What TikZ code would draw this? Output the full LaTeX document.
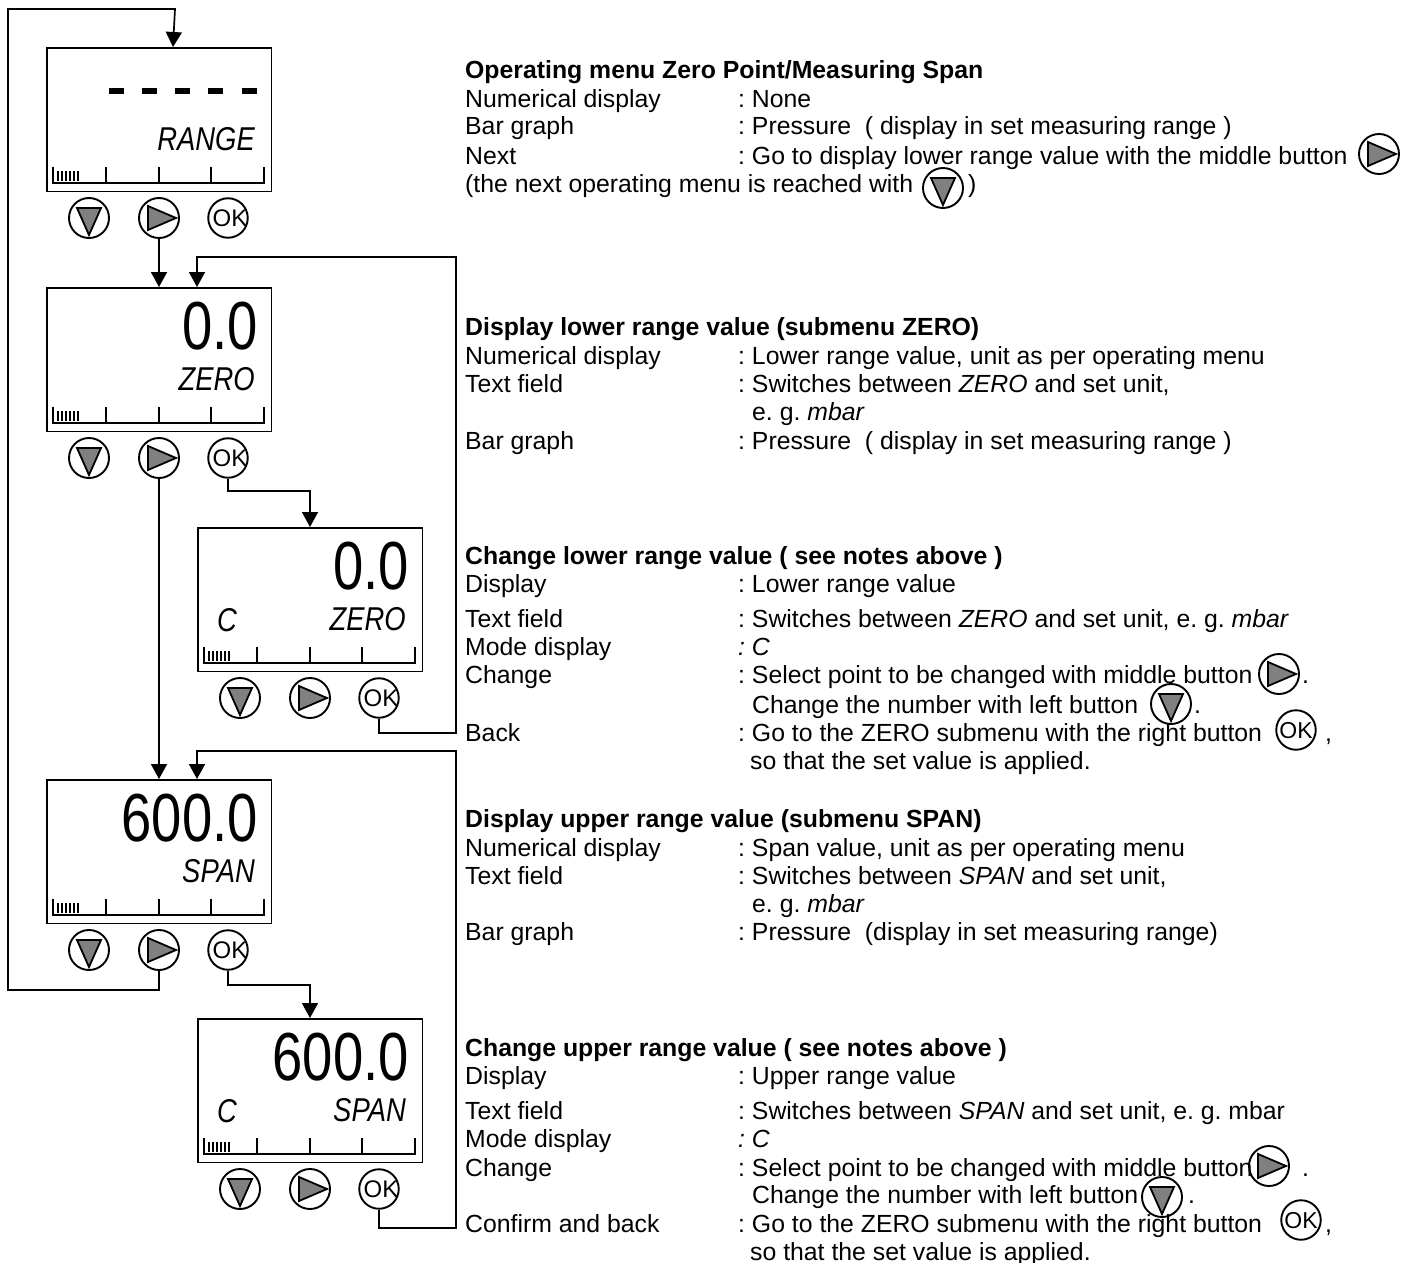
\documentclass[tikz,border=0pt]{standalone}
\usepackage{fontspec}
\setmainfont{Liberation Sans}
\usetikzlibrary{arrows.meta}
\newcounter{txtn}
\frenchspacing
\tikzset{
  x=1pt,y=-1pt,
  lcd/.style={draw=black,line width=1.9pt,fill=white,rectangle,inner sep=0pt,minimum width=224.5pt,minimum height=143.5pt,anchor=north west},
  scale line/.style={line width=1.6pt},
  fine tick/.style={line width=1.1pt},
  btn/.style={draw=black,line width=1.9pt,circle,inner sep=0pt,minimum size=40pt},
  btnsmall/.style={btn,minimum size=39.5pt},
  tri/.style={draw=black,fill=black!50,line width=1.8pt,line join=miter},
  conn/.style={draw=black,line width=1.7pt,-{Triangle[width=16pt,length=15pt]}},
  txt/.style={anchor=base west,inner sep=0pt,font=\fontsize{24.8}{24.8}\selectfont},
  bold txt/.style={txt,font=\fontsize{24.8}{24.8}\selectfont\bfseries},
  big num/.style={anchor=base east,inner sep=0pt,font=\fontsize{68}{68}\selectfont},
  lcd label/.style={anchor=base east,inner sep=0pt,font=\fontsize{33}{33}\selectfont\itshape},
  ok text/.style={inner sep=0pt,font=\fontsize{24}{24}\selectfont},
  ok inline/.style={inner sep=0pt,font=\fontsize{23}{23}\selectfont},
}
% icons: name, x, y
\newcommand{\btndown}[3]{%
  \node[btn] (#1) at (#2,#3) {};
  \draw[tri,shift={(#2,#3)}] (-12,-10) -- (12,-10) -- (0,17) -- cycle;}
\newcommand{\btnright}[3]{%
  \node[btn] (#1) at (#2,#3) {};
  \draw[tri,shift={(#2,#3)}] (-11,-12) -- (17,0) -- (-11,12) -- cycle;}
\newcommand{\btnok}[3]{%
  \node[btnsmall] (#1) at (#2,#3) {};
  \node[ok text] (#1t) at (\numexpr#2+2\relax,#3) {OK};}
\newcommand{\btnokin}[3]{%
  \node[btnsmall] (#1) at (#2,#3) {};
  \node[ok inline] (#1t) at (#2,\numexpr#3+1\relax) {OK};}
% display: name, x, y, number, label, mode
\newcommand{\lcdunit}[6]{%
  \node[lcd] (#1) at (#2,#3) {};
  \begin{scope}[shift={(#2,#3)}]
    \draw[scale line] (7,120) -- (7,136) -- (218,136) -- (218,120);
    \foreach \tx in {60,113,165} \draw[scale line] (\tx,120) -- (\tx,136);
    \foreach \tx in {12,16,20,24,28,32} \draw[fine tick] (\tx,124) -- (\tx,134);
    \node[big num] (#1n) at (212,62) {\scalebox{.8}[1]{#4}};
    \node[lcd label] (#1l) at (209,103) {\scalebox{.83}[1]{#5}};
    \node[lcd label,anchor=base west] (#1m) at (20,104) {\scalebox{.83}[1]{#6}};
  \end{scope}
  \btndown{#1a}{\numexpr#2+43\relax}{\numexpr#3+171\relax}
  \btnright{#1b}{\numexpr#2+113\relax}{\numexpr#3+171\relax}
  \btnok{#1c}{\numexpr#2+182\relax}{\numexpr#3+171\relax}}
\newcommand{\tl}[3]{\stepcounter{txtn}\node[txt] (t\thetxtn) at (#1,#2) {#3};}
\newcommand{\hd}[2]{\stepcounter{txtn}\node[bold txt] (t\thetxtn) at (465,#1) {#2};}
\newcommand{\rw}[3]{\tl{465}{#1}{#2}\tl{738}{#1}{#3}}
\begin{document}
\begin{tikzpicture}
\useasboundingbox (0,0) rectangle (1409,1263);
% displays
\lcdunit{A}{46}{47}{}{RANGE}{}
\lcdunit{B}{46}{287}{0.0}{ZERO}{}
\lcdunit{C}{197}{527}{0.0}{ZERO}{C}
\lcdunit{D}{46}{779}{600.0}{SPAN}{}
\lcdunit{E}{197}{1018}{600.0}{SPAN}{C}
\foreach \dx in {109,142,175,208,242} \fill (\dx,88) rectangle +(15,6);
% connectors
\coordinate (loopA) at (159,990);
\coordinate (loopB) at (8,990);
\coordinate (loopC) at (8,9);
\coordinate (loopD) at (175,9);
\coordinate (Ain) at (173,47);
\draw[conn] (Db.south) -- (loopA) -- (loopB) -- (loopC) -- (loopD) -- (Ain);
\draw[conn] (Ab.south) -- (Ab.south |- B.north);
\draw[conn] (Bb.south) -- (Bb.south |- D.north);
\coordinate (r1a) at (379,733);
\coordinate (r1b) at (456,733);
\coordinate (r1c) at (456,257);
\coordinate (r1d) at (197,257);
\coordinate (Bin) at (197,287);
\draw[conn] (Cc.south) -- (r1a) -- (r1b) -- (r1c) -- (r1d) -- (Bin);
\coordinate (r2a) at (379,1228);
\coordinate (r2b) at (456,1228);
\coordinate (r2c) at (456,751);
\coordinate (r2d) at (197,751);
\coordinate (Din) at (197,779);
\draw[conn] (Ec.south) -- (r2a) -- (r2b) -- (r2c) -- (r2d) -- (Din);
\coordinate (s1a) at (228,491);
\coordinate (s1b) at (310,491);
\coordinate (Cin) at (310,527);
\draw[conn] (Bc.south) -- (s1a) -- (s1b) -- (Cin);
\coordinate (s2a) at (228,985);
\coordinate (s2b) at (310,985);
\coordinate (Ein) at (310,1018);
\draw[conn] (Dc.south) -- (s2a) -- (s2b) -- (Ein);
% block 1
\hd{78}{Operating menu Zero Point/Measuring Span}
\rw{107}{Numerical display}{: None}
\rw{135}{Bar graph}{: Pressure\ \ ( display in set measuring range )}
\rw{164}{Next}{: Go to display lower range value with the middle button}
\tl{465}{192}{(the next operating menu is reached with}
\btnright{i1}{1379}{154}
\btndown{i2}{943}{188}
\tl{968}{192}{)}
% block 2
\hd{335}{Display lower range value (submenu ZERO)}
\rw{364}{Numerical display}{: Lower range value, unit as per operating menu}
\rw{392}{Text field}{: Switches between \textit{ZERO} and set unit,}
\tl{752}{420}{e. g. \textit{mbar}}
\rw{449}{Bar graph}{: Pressure\ \ ( display in set measuring range )}
% block 3
\hd{564}{Change lower range value ( see notes above )}
\rw{592}{Display}{: Lower range value}
\rw{627}{Text field}{: Switches between \textit{ZERO} and set unit, e. g. \textit{mbar}}
\rw{655}{Mode display}{\textit{: C}}
\rw{683}{Change}{: Select point to be changed with middle button}
\tl{752}{713}{Change the number with left button}
\rw{741}{Back}{: Go to the ZERO submenu with the right button}
\tl{750}{769}{so that the set value is applied.}
\btnright{i3}{1279}{674}
\tl{1302}{683}{.}
\btndown{i4}{1171}{704}
\tl{1194}{713}{.}
\btnokin{i5}{1296}{730}
\tl{1325}{741}{,}
% block 4
\hd{827}{Display upper range value (submenu SPAN)}
\rw{856}{Numerical display}{: Span value, unit as per operating menu}
\rw{884}{Text field}{: Switches between \textit{SPAN} and set unit,}
\tl{752}{912}{e. g. \textit{mbar}}
\rw{940}{Bar graph}{: Pressure\ \ (display in set measuring range)}
% block 5
\hd{1056}{Change upper range value ( see notes above )}
\rw{1084}{Display}{: Upper range value}
\rw{1119}{Text field}{: Switches between \textit{SPAN} and set unit, e. g. mbar}
\rw{1147}{Mode display}{\textit{: C}}
\rw{1176}{Change}{: Select point to be changed with middle button}
\tl{752}{1203}{Change the number with left button}
\rw{1232}{Confirm and back}{: Go to the ZERO submenu with the right button}
\tl{750}{1260}{so that the set value is applied.}
\btnright{i6}{1269}{1166}
\tl{1302}{1176}{.}
\btndown{i7}{1162}{1197}
\tl{1188}{1203}{.}
\btnokin{i8}{1301}{1220}
\tl{1325}{1232}{,}
\end{tikzpicture}
\end{document}
